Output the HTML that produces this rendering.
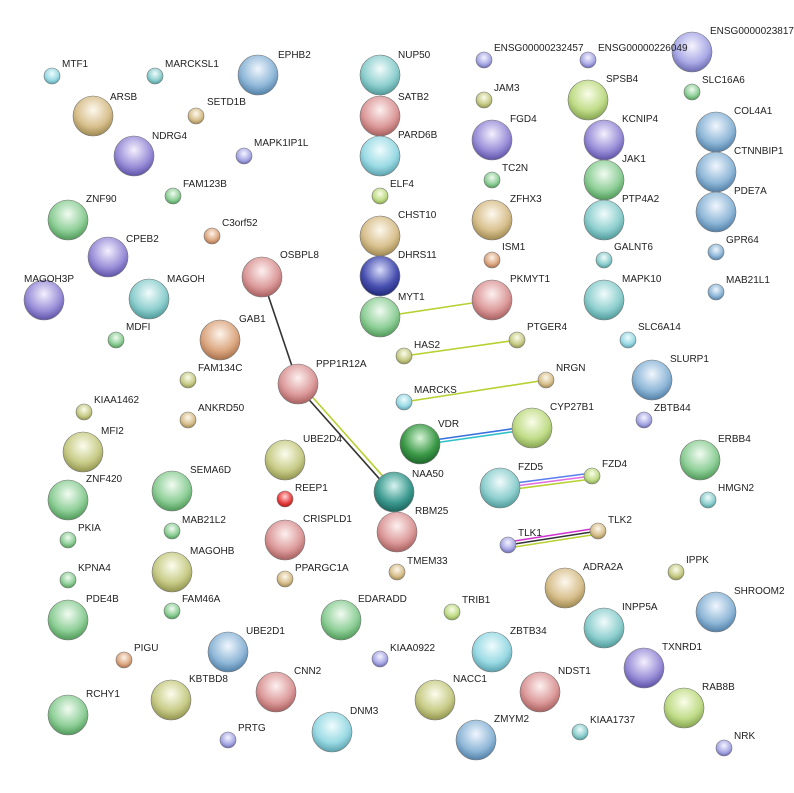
<!DOCTYPE html>
<html><head><meta charset="utf-8"><style>
html,body{margin:0;padding:0;background:#fff;width:794px;height:793px;overflow:hidden}
svg text{font-family:"Liberation Sans",sans-serif;font-size:10px;fill:#222}
</style></head><body>
<svg width="794" height="793" viewBox="0 0 794 793" xmlns="http://www.w3.org/2000/svg">
<defs>
<radialGradient id="teal" cx="50%" cy="35%" r="65%"><stop offset="0" stop-color="#f2fbfb"/><stop offset=".65" stop-color="#8fcfcf"/><stop offset="1" stop-color="#4f9a9a"/></radialGradient>
<radialGradient id="green" cx="50%" cy="35%" r="65%"><stop offset="0" stop-color="#f2fbf2"/><stop offset=".65" stop-color="#8fcf98"/><stop offset="1" stop-color="#4f9a58"/></radialGradient>
<radialGradient id="tan" cx="50%" cy="35%" r="65%"><stop offset="0" stop-color="#fdf8ee"/><stop offset=".65" stop-color="#d8c08e"/><stop offset="1" stop-color="#a08850"/></radialGradient>
<radialGradient id="rose" cx="50%" cy="35%" r="65%"><stop offset="0" stop-color="#fdf0f0"/><stop offset=".65" stop-color="#dc9a9a"/><stop offset="1" stop-color="#a85e5e"/></radialGradient>
<radialGradient id="blue" cx="50%" cy="35%" r="65%"><stop offset="0" stop-color="#f0f6fd"/><stop offset=".65" stop-color="#90b8d8"/><stop offset="1" stop-color="#5280a8"/></radialGradient>
<radialGradient id="purple" cx="50%" cy="35%" r="65%"><stop offset="0" stop-color="#f4f0fd"/><stop offset=".65" stop-color="#9a8fd8"/><stop offset="1" stop-color="#5e52a8"/></radialGradient>
<radialGradient id="lav" cx="50%" cy="35%" r="65%"><stop offset="0" stop-color="#f6f4fe"/><stop offset=".65" stop-color="#aaaae6"/><stop offset="1" stop-color="#6a6ab0"/></radialGradient>
<radialGradient id="olive" cx="50%" cy="35%" r="65%"><stop offset="0" stop-color="#fcfdee"/><stop offset=".65" stop-color="#c8cc88"/><stop offset="1" stop-color="#90944e"/></radialGradient>
<radialGradient id="orange" cx="50%" cy="35%" r="65%"><stop offset="0" stop-color="#fdf4ec"/><stop offset=".65" stop-color="#dca882"/><stop offset="1" stop-color="#a8704a"/></radialGradient>
<radialGradient id="red" cx="50%" cy="35%" r="65%"><stop offset="0" stop-color="#ffd8d8"/><stop offset=".65" stop-color="#e84040"/><stop offset="1" stop-color="#b01818"/></radialGradient>
<radialGradient id="cyan" cx="50%" cy="35%" r="65%"><stop offset="0" stop-color="#f0fcfe"/><stop offset=".65" stop-color="#9adae4"/><stop offset="1" stop-color="#5aa2ae"/></radialGradient>
<radialGradient id="dblue" cx="50%" cy="35%" r="65%"><stop offset="0" stop-color="#d8dcfa"/><stop offset=".65" stop-color="#4850b0"/><stop offset="1" stop-color="#202878"/></radialGradient>
<radialGradient id="dgreen" cx="50%" cy="35%" r="65%"><stop offset="0" stop-color="#d8f4d8"/><stop offset=".65" stop-color="#3c9a48"/><stop offset="1" stop-color="#1c6428"/></radialGradient>
<radialGradient id="dteal" cx="50%" cy="35%" r="65%"><stop offset="0" stop-color="#d8f4f0"/><stop offset=".65" stop-color="#3c9a90"/><stop offset="1" stop-color="#1c645c"/></radialGradient>
<radialGradient id="yg" cx="50%" cy="35%" r="65%"><stop offset="0" stop-color="#fafdea"/><stop offset=".65" stop-color="#c0dc88"/><stop offset="1" stop-color="#86a450"/></radialGradient>
</defs>
<g stroke-width="1.6" fill="none">
<line x1="262" y1="277" x2="298" y2="384" stroke="#333"/>
<line x1="296" y1="385" x2="392" y2="493" stroke="#333"/>
<line x1="300" y1="383" x2="396" y2="491" stroke="#b8d030"/>
<line x1="380" y1="317" x2="492" y2="300" stroke="#b8d030"/>
<line x1="404" y1="356" x2="517" y2="340" stroke="#b8d030"/>
<line x1="404" y1="402" x2="546" y2="380" stroke="#b8d030"/>
<line x1="420" y1="442" x2="532" y2="426" stroke="#3a70e0"/>
<line x1="420" y1="445" x2="532" y2="429" stroke="#30c0c8"/>
<line x1="500" y1="485" x2="592" y2="473" stroke="#5a80f0"/>
<line x1="500" y1="488" x2="592" y2="476" stroke="#e070e0"/>
<line x1="500" y1="491" x2="592" y2="479" stroke="#b8d030"/>
<line x1="508" y1="542" x2="598" y2="528" stroke="#d030d0"/>
<line x1="508" y1="545" x2="598" y2="531" stroke="#333"/>
<line x1="508" y1="548" x2="598" y2="534" stroke="#b8d030"/>
</g>
<g stroke-width="0.6" stroke="#777">
<circle cx="52" cy="76" r="8" fill="url(#cyan)"/><circle cx="155" cy="76" r="8" fill="url(#teal)"/><circle cx="258" cy="75" r="20" fill="url(#blue)"/>
<circle cx="93" cy="116" r="20" fill="url(#tan)"/><circle cx="196" cy="116" r="8" fill="url(#tan)"/><circle cx="134" cy="156" r="20" fill="url(#purple)"/>
<circle cx="244" cy="156" r="8" fill="url(#lav)"/><circle cx="173" cy="196" r="8" fill="url(#green)"/><circle cx="68" cy="220" r="20" fill="url(#green)"/>
<circle cx="212" cy="236" r="8" fill="url(#orange)"/><circle cx="108" cy="257" r="20" fill="url(#purple)"/><circle cx="262" cy="277" r="20" fill="url(#rose)"/>
<circle cx="44" cy="300" r="20" fill="url(#purple)"/><circle cx="149" cy="299" r="20" fill="url(#teal)"/><circle cx="116" cy="340" r="8" fill="url(#green)"/>
<circle cx="220" cy="340" r="20" fill="url(#orange)"/><circle cx="298" cy="384" r="20" fill="url(#rose)"/><circle cx="188" cy="380" r="8" fill="url(#olive)"/>
<circle cx="84" cy="412" r="8" fill="url(#olive)"/><circle cx="188" cy="420" r="8" fill="url(#tan)"/><circle cx="83" cy="452" r="20" fill="url(#olive)"/>
<circle cx="285" cy="460" r="20" fill="url(#olive)"/><circle cx="285" cy="499" r="8" fill="url(#red)"/><circle cx="68" cy="500" r="20" fill="url(#green)"/>
<circle cx="172" cy="491" r="20" fill="url(#green)"/><circle cx="68" cy="540" r="8" fill="url(#green)"/><circle cx="172" cy="531" r="8" fill="url(#green)"/>
<circle cx="285" cy="540" r="20" fill="url(#rose)"/><circle cx="68" cy="580" r="8" fill="url(#green)"/><circle cx="172" cy="572" r="20" fill="url(#olive)"/>
<circle cx="285" cy="579" r="8" fill="url(#tan)"/><circle cx="68" cy="620" r="20" fill="url(#green)"/><circle cx="172" cy="611" r="8" fill="url(#green)"/>
<circle cx="341" cy="620" r="20" fill="url(#green)"/><circle cx="228" cy="652" r="20" fill="url(#blue)"/><circle cx="124" cy="660" r="8" fill="url(#orange)"/>
<circle cx="380" cy="659" r="8" fill="url(#lav)"/><circle cx="276" cy="692" r="20" fill="url(#rose)"/><circle cx="171" cy="700" r="20" fill="url(#olive)"/>
<circle cx="68" cy="715" r="20" fill="url(#green)"/><circle cx="332" cy="732" r="20" fill="url(#cyan)"/><circle cx="228" cy="740" r="8" fill="url(#lav)"/>
<circle cx="380" cy="75" r="20" fill="url(#teal)"/><circle cx="380" cy="116" r="20" fill="url(#rose)"/><circle cx="380" cy="156" r="20" fill="url(#cyan)"/>
<circle cx="380" cy="196" r="8" fill="url(#yg)"/><circle cx="380" cy="236" r="20" fill="url(#tan)"/><circle cx="380" cy="276" r="20" fill="url(#dblue)"/>
<circle cx="380" cy="317" r="20" fill="url(#green)"/><circle cx="404" cy="356" r="8" fill="url(#olive)"/><circle cx="404" cy="402" r="8" fill="url(#cyan)"/>
<circle cx="420" cy="444" r="20" fill="url(#dgreen)"/><circle cx="394" cy="492" r="20" fill="url(#dteal)"/><circle cx="397" cy="532" r="20" fill="url(#rose)"/>
<circle cx="397" cy="572" r="8" fill="url(#tan)"/><circle cx="452" cy="612" r="8" fill="url(#yg)"/><circle cx="492" cy="652" r="20" fill="url(#cyan)"/>
<circle cx="435" cy="700" r="20" fill="url(#olive)"/><circle cx="476" cy="740" r="20" fill="url(#blue)"/><circle cx="484" cy="60" r="8" fill="url(#lav)"/>
<circle cx="484" cy="100" r="8" fill="url(#olive)"/><circle cx="492" cy="140" r="20" fill="url(#purple)"/><circle cx="492" cy="180" r="8" fill="url(#green)"/>
<circle cx="492" cy="220" r="20" fill="url(#tan)"/><circle cx="492" cy="260" r="8" fill="url(#orange)"/><circle cx="492" cy="300" r="20" fill="url(#rose)"/>
<circle cx="517" cy="340" r="8" fill="url(#olive)"/><circle cx="546" cy="380" r="8" fill="url(#tan)"/><circle cx="532" cy="428" r="20" fill="url(#yg)"/>
<circle cx="500" cy="488" r="20" fill="url(#teal)"/><circle cx="592" cy="476" r="8" fill="url(#yg)"/><circle cx="508" cy="545" r="8" fill="url(#lav)"/>
<circle cx="598" cy="531" r="8" fill="url(#tan)"/><circle cx="565" cy="588" r="20" fill="url(#tan)"/><circle cx="540" cy="692" r="20" fill="url(#rose)"/>
<circle cx="580" cy="732" r="8" fill="url(#teal)"/><circle cx="588" cy="60" r="8" fill="url(#lav)"/><circle cx="588" cy="100" r="20" fill="url(#yg)"/>
<circle cx="604" cy="140" r="20" fill="url(#purple)"/><circle cx="604" cy="180" r="20" fill="url(#green)"/><circle cx="604" cy="220" r="20" fill="url(#teal)"/>
<circle cx="604" cy="260" r="8" fill="url(#teal)"/><circle cx="604" cy="300" r="20" fill="url(#teal)"/><circle cx="628" cy="340" r="8" fill="url(#cyan)"/>
<circle cx="652" cy="380" r="20" fill="url(#blue)"/><circle cx="644" cy="420" r="8" fill="url(#lav)"/><circle cx="700" cy="460" r="20" fill="url(#green)"/>
<circle cx="708" cy="500" r="8" fill="url(#teal)"/><circle cx="676" cy="572" r="8" fill="url(#olive)"/><circle cx="716" cy="612" r="20" fill="url(#blue)"/>
<circle cx="604" cy="628" r="20" fill="url(#teal)"/><circle cx="644" cy="668" r="20" fill="url(#purple)"/><circle cx="684" cy="708" r="20" fill="url(#yg)"/>
<circle cx="724" cy="748" r="8" fill="url(#lav)"/><circle cx="692" cy="52" r="20" fill="url(#lav)"/><circle cx="692" cy="92" r="8" fill="url(#green)"/>
<circle cx="716" cy="132" r="20" fill="url(#blue)"/><circle cx="716" cy="172" r="20" fill="url(#blue)"/><circle cx="716" cy="212" r="20" fill="url(#blue)"/>
<circle cx="716" cy="252" r="8" fill="url(#blue)"/><circle cx="716" cy="292" r="8" fill="url(#blue)"/>
</g>
<g>
<text x="62" y="67">MTF1</text><text x="165" y="67">MARCKSL1</text><text x="278" y="58">EPHB2</text>
<text x="110" y="100">ARSB</text><text x="207" y="105">SETD1B</text><text x="152" y="139">NDRG4</text>
<text x="254" y="146">MAPK1IP1L</text><text x="183" y="187">FAM123B</text><text x="86" y="202">ZNF90</text>
<text x="222" y="226">C3orf52</text><text x="126" y="242">CPEB2</text><text x="280" y="258">OSBPL8</text>
<text x="24" y="282">MAGOH3P</text><text x="167" y="282">MAGOH</text><text x="126" y="330">MDFI</text>
<text x="239" y="322">GAB1</text><text x="316" y="367">PPP1R12A</text><text x="198" y="371">FAM134C</text>
<text x="94" y="403">KIAA1462</text><text x="198" y="411">ANKRD50</text><text x="101" y="434">MFI2</text>
<text x="303" y="442">UBE2D4</text><text x="295" y="491">REEP1</text><text x="86" y="482">ZNF420</text>
<text x="190" y="473">SEMA6D</text><text x="78" y="531">PKIA</text><text x="182" y="523">MAB21L2</text>
<text x="303" y="522">CRISPLD1</text><text x="78" y="571">KPNA4</text><text x="190" y="554">MAGOHB</text>
<text x="295" y="571">PPARGC1A</text><text x="86" y="602">PDE4B</text><text x="182" y="602">FAM46A</text>
<text x="358" y="602">EDARADD</text><text x="246" y="634">UBE2D1</text><text x="134" y="651">PIGU</text>
<text x="390" y="651">KIAA0922</text><text x="294" y="674">CNN2</text><text x="189" y="682">KBTBD8</text>
<text x="86" y="697">RCHY1</text><text x="350" y="714">DNM3</text><text x="238" y="731">PRTG</text>
<text x="398" y="58">NUP50</text><text x="398" y="100">SATB2</text><text x="398" y="138">PARD6B</text>
<text x="390" y="187">ELF4</text><text x="398" y="218">CHST10</text><text x="398" y="258">DHRS11</text>
<text x="398" y="300">MYT1</text><text x="414" y="348">HAS2</text><text x="414" y="393">MARCKS</text>
<text x="438" y="427">VDR</text><text x="412" y="477">NAA50</text><text x="415" y="514">RBM25</text>
<text x="407" y="564">TMEM33</text><text x="462" y="603">TRIB1</text><text x="510" y="634">ZBTB34</text>
<text x="453" y="682">NACC1</text><text x="494" y="722">ZMYM2</text><text x="494" y="51">ENSG00000232457</text>
<text x="494" y="91">JAM3</text><text x="510" y="122">FGD4</text><text x="502" y="171">TC2N</text>
<text x="510" y="202">ZFHX3</text><text x="502" y="250">ISM1</text><text x="510" y="282">PKMYT1</text>
<text x="527" y="330">PTGER4</text><text x="556" y="371">NRGN</text><text x="550" y="410">CYP27B1</text>
<text x="518" y="470">FZD5</text><text x="602" y="467">FZD4</text><text x="518" y="536">TLK1</text>
<text x="608" y="523">TLK2</text><text x="583" y="570">ADRA2A</text><text x="558" y="674">NDST1</text>
<text x="590" y="723">KIAA1737</text><text x="598" y="51">ENSG00000226049</text><text x="606" y="82">SPSB4</text>
<text x="622" y="122">KCNIP4</text><text x="622" y="162">JAK1</text><text x="622" y="202">PTP4A2</text>
<text x="614" y="250">GALNT6</text><text x="622" y="282">MAPK10</text><text x="638" y="330">SLC6A14</text>
<text x="670" y="362">SLURP1</text><text x="654" y="411">ZBTB44</text><text x="718" y="442">ERBB4</text>
<text x="718" y="491">HMGN2</text><text x="686" y="563">IPPK</text><text x="734" y="594">SHROOM2</text>
<text x="622" y="610">INPP5A</text><text x="662" y="650">TXNRD1</text><text x="702" y="690">RAB8B</text>
<text x="734" y="739">NRK</text><text x="710" y="34">ENSG00000238178</text><text x="702" y="83">SLC16A6</text>
<text x="734" y="114">COL4A1</text><text x="734" y="154">CTNNBIP1</text><text x="734" y="194">PDE7A</text>
<text x="726" y="243">GPR64</text><text x="726" y="283">MAB21L1</text>
</g>
</svg>
</body></html>
